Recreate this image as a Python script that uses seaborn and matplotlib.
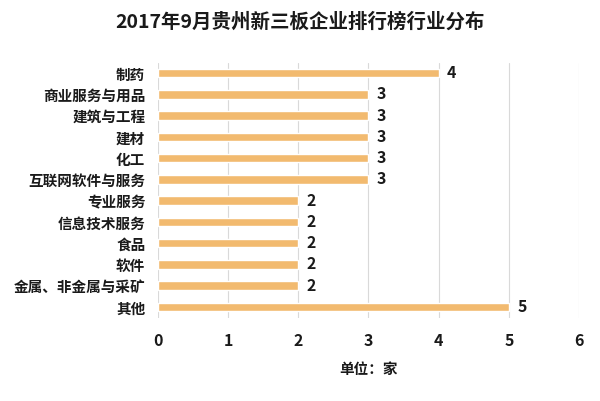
import matplotlib
matplotlib.use("Agg")
import matplotlib.pyplot as plt
import seaborn as sns
import pandas as pd

categories = ["制药", "商业服务与用品", "建筑与工程", "建材", "化工", "互联网软件与服务",
              "专业服务", "信息技术服务", "食品", "软件", "金属、非金属与采矿", "其他"]
values = [4, 3, 3, 3, 3, 3, 2, 2, 2, 2, 2, 5]
title = "2017年9月贵州新三板企业排行榜行业分布"
xlabel = "单位：家"

sns.set_theme(style="white")
plt.rcParams['font.family'] = ['Noto Sans CJK SC', 'DejaVu Sans']

df = pd.DataFrame({"cat": categories, "val": values})

fig = plt.figure(figsize=(6, 4.01), dpi=100)
ax = fig.add_axes([0.263, 0.208, 0.702, 0.636])
sns.barplot(data=df, y="cat", x="val", color="#F2BA6F", saturation=1, width=0.4, ax=ax, zorder=3)

ax.set_xlim(0, 6)
ax.set_xticks(range(0, 7))
ax.grid(axis="x", color="#D9D9D9", linewidth=0.8, zorder=0)
ax.grid(axis="y", visible=False)
for s in ax.spines.values():
    s.set_visible(False)
ax.tick_params(axis="both", length=0)
ax.tick_params(axis="x", pad=11)
ax.tick_params(axis="y", pad=9)
for lab in ax.get_xticklabels():
    lab.set_fontsize(11.5)
    lab.set_fontweight("bold")
    lab.set_color("#1a1a1a")
for lab in ax.get_yticklabels():
    lab.set_fontsize(10.5)
    lab.set_fontweight("bold")
    lab.set_color("#1a1a1a")
ax.set_ylabel("")
ax.set_xlabel(xlabel, fontsize=10.5, fontweight="bold", color="#1a1a1a", labelpad=9)

for c in ax.containers:
    ax.bar_label(c, padding=6, fontsize=11.5, fontweight="bold", color="#1a1a1a")

fig.text(0.5, 0.945, title, ha="center", va="center", fontsize=14, fontweight="bold", color="#1a1a1a")

fig.savefig("out.png", dpi=100, facecolor="white")
